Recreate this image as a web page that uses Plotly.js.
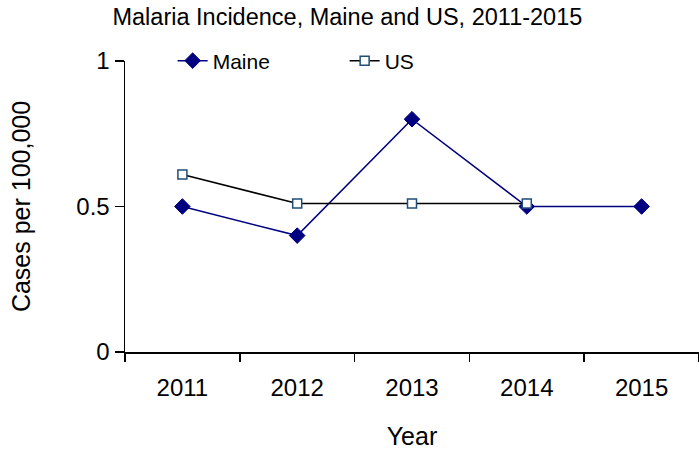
<!DOCTYPE html>
<html>
<head>
<meta charset="utf-8">
<script src="https://cdn.plot.ly/plotly-3.0.1.min.js"></script>
<style>html,body{margin:0;padding:0;background:#fff;}#chart{width:699px;height:451px;}</style>
</head>
<body>
<div id="chart"></div>
<script>
var years = ["2011", "2012", "2013", "2014", "2015"];
var maine = [0.5, 0.4, 0.8, 0.5, 0.5];
var usYears = ["2011", "2012", "2013", "2014"];
var us = [0.61, 0.51, 0.51, 0.51];
var yTicks = [0, 0.5, 1];
var yTickText = ["0", "0.5", "1"];

var font = "Liberation Sans, Arial, sans-serif";

var traces = [
  {
    x: years, y: maine, name: "Maine", type: "scatter", mode: "lines+markers",
    line: {color: "#000080", width: 1.5},
    marker: {symbol: "diamond", size: 12, color: "#000080", line: {color: "#000080", width: 1}}
  },
  {
    x: usYears, y: us, name: "US", type: "scatter", mode: "lines+markers",
    line: {color: "#000000", width: 1.5},
    marker: {symbol: "square", size: 9, color: "#ffffff", line: {color: "#1F4E79", width: 1.5}}
  }
];

var layout = {
  width: 699, height: 451,
  margin: {l: 125, r: 0, t: 61, b: 99},
  paper_bgcolor: "#ffffff", plot_bgcolor: "#ffffff",
  font: {family: font, color: "#000000", size: 23},
  title: {text: "Malaria Incidence, Maine and US, 2011-2015", font: {family: font, size: 23.5, color: "#000"},
          x: 0.497, xanchor: "center", xref: "container", y: 0.962, yanchor: "middle", yref: "container"},
  xaxis: {
    type: "category", categoryorder: "array", categoryarray: years,
    range: [-0.5, 4.5], tickson: "boundaries", ticks: "outside", ticklen: 8, tickwidth: 1.5, tickcolor: "#000",
    showline: true, linecolor: "#000", linewidth: 1.5, showgrid: false, zeroline: false,
    tickfont: {family: font, size: 24}, ticklabelstandoff: 14,
    title: {text: "Year", font: {family: font, size: 25}, standoff: 27}
  },
  yaxis: {
    range: [0, 1], tickvals: yTicks, ticktext: yTickText, ticks: "outside", ticklen: 9, tickwidth: 1.5, tickcolor: "#000",
    showline: true, linecolor: "#000", linewidth: 1.5, showgrid: false, zeroline: false,
    tickfont: {family: font, size: 24},
    title: {text: "Cases per 100,000", font: {family: font, size: 25}, standoff: 38}
  },
  showlegend: true,
  legend: {orientation: "h", x: 0.083, xanchor: "left", y: 1.0, yanchor: "middle",
           font: {family: font, size: 21}, entrywidth: 127, entrywidthmode: "pixels",
           bgcolor: "rgba(0,0,0,0)", borderwidth: 0}
};

Plotly.newPlot("chart", traces, layout, {displayModeBar: false, staticPlot: true});
</script>
</body>
</html>
